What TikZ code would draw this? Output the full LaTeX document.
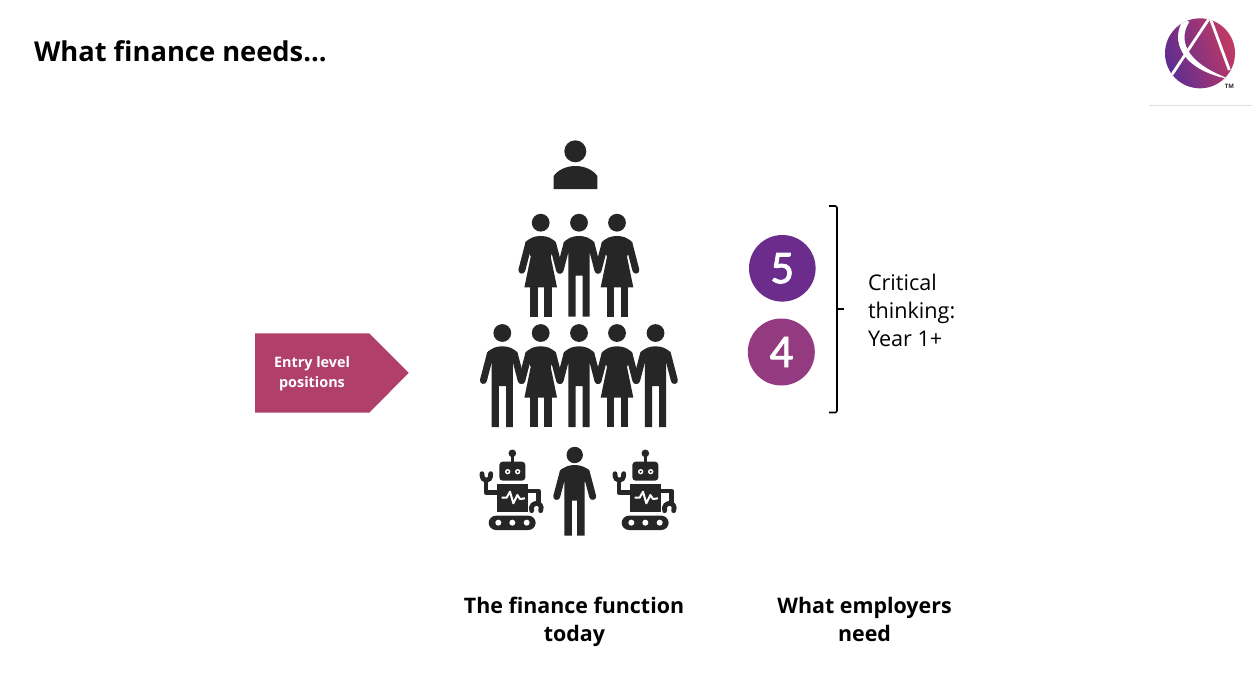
\documentclass[tikz,border=0pt]{standalone}
\usepackage{fontspec}
\setmainfont{Open Sans}
\newfontfamily\numfont[FakeBold=1.6]{Carlito}
\definecolor{ink}{HTML}{262626}
\definecolor{deepviolet}{HTML}{6B2C8C}
\definecolor{plum}{HTML}{943A80}
\definecolor{rosewood}{HTML}{B03F6A}
\definecolor{logoleft}{HTML}{5A2D92}
\definecolor{logoright}{HTML}{C63A62}
\newcommand{\px}[1]{\fontsize{\the\dimexpr #1pt*3/4\relax}{\the\dimexpr #1pt*3/4\relax}\selectfont}
\newcommand{\figbody}{%
  \fill[ink] (0,0) circle (8.9);
  \draw[ink,line width=5.2pt,line cap=round,line join=round]
    (-12,21) -- (-18.9,47.5) (12,21) -- (18.9,47.5);
}
\newcommand{\figman}[2]{\begin{scope}[shift={(#1,#2)}]
  \figbody
  \fill[ink] (-10.6,94) -- (-10.6,31) -- (-15.5,20)
    .. controls (-11,15) and (-6,13.3) .. (0,13.3)
    .. controls (6,13.3) and (11,15) .. (15.5,20)
    -- (10.6,31) -- (10.6,94) -- (3.7,94) -- (3.7,53) -- (-3.4,53) -- (-3.4,94) -- cycle;
\end{scope}}
\newcommand{\figwoman}[2]{\begin{scope}[shift={(#1,#2)}]
  \figbody
  \fill[ink] (-16.3,64.6) -- (-10,34) -- (-15.5,20)
    .. controls (-11,15) and (-6,13.3) .. (0,13.3)
    .. controls (6,13.3) and (11,15) .. (15.5,20)
    -- (10,34) -- (16.3,64.6) -- cycle;
  \fill[ink] (-10.4,62) rectangle (-3.2,94);
  \fill[ink] (3.6,62) rectangle (10.8,94);
\end{scope}}
\newcommand{\figrobot}[1]{\begin{scope}[shift={(#1,315)},scale=1/3]
  \fill[ink] (127,415) circle (11.5);
  \fill[ink] (123.5,420) rectangle (130.5,445);
  \fill[ink,rounded corners=2.5pt] (88,440) rectangle (166,497);
  \fill[white] (113,470) circle (8) (143,470) circle (8);
  \fill[ink] (113,470) circle (3.5) (143,470) circle (3.5);
  \fill[ink] (80,508) rectangle (175,592);
  \fill[ink,rounded corners=5.5pt] (56,602) rectangle (197,645);
  \fill[white] (85,623) circle (9) (127,623) circle (9) (170,623) circle (9);
  \draw[ink,line width=3.6pt,line join=round] (80,532) -- (48,532) -- (48,492);
  \draw[ink,line width=3.6pt,line cap=round] (36,476) .. controls (34,503) and (64,503) .. (62,476);
  \draw[ink,line width=3.6pt,line join=round] (175,528) -- (205,528) -- (205,568);
  \draw[ink,line width=3.6pt,line cap=round] (185,587) .. controls (178,558) and (222,558) .. (212,587);
  \draw[white,line width=1.5pt,line join=round] (95,548) -- (110,548) -- (120,530) -- (130,565) -- (142,540) -- (150,552) -- (165,550);
\end{scope}}
\begin{document}
\begin{tikzpicture}[x=0.75pt,y=-0.75pt,
  every node/.style={inner sep=0pt,outer sep=0pt},
  heading/.style={font=\bfseries\px{21.4},align=center,anchor=base},
  body/.style={font=\px{21.6},anchor=base west},
  numeral/.style={font=\numfont\px{47},text=white}]
\useasboundingbox (0,0) rectangle (1252,693);
\fill[white] (0,0) rectangle (1252,693);

\node[anchor=base west,font=\bfseries\px{27.3}] (title) at (34,61) {What finance needs...};

% logo
\begin{scope}[shift={(1140,5)},scale=1/3]
  \begin{scope}
    \clip (180,145) circle (105);
    \shade[left color=logoleft,right color=logoright,shading angle=110] (70,35) rectangle (290,255);
    \draw[white,line width=2.1pt] (211,35) -- (95,210);
    \draw[white,line width=2.1pt] (209,35) -- (268,195);
    \fill[white] (130,45) .. controls (92,100) and (115,195) .. (275,224)
      .. controls (150,180) and (108,115) .. (148,50) -- cycle;
  \end{scope}
\end{scope}
\node[font=\bfseries\px{6},text=ink] (tm) at (1229.5,86) {TM};
\draw[gray!25,line width=0.6pt] (1149,105) -- (1252,105);

% arrow
\fill[rosewood] (255,333.3) -- (369.3,333.3) -- (408.7,372.8) -- (369.3,412.7) -- (255,412.7) -- cycle;
\node[font=\bfseries\px{14.4},text=white,anchor=base] (entrya) at (312,367) {Entry level};
\node[font=\bfseries\px{14.4},text=white,anchor=base] (entryb) at (312,387) {positions};

% top person
\fill[ink] (575.3,151.3) circle (11);
\fill[ink] (553.7,189) -- (553.7,176) .. controls (558,170) and (566,166) .. (575.5,166)
  .. controls (585,166) and (593,170) .. (597.3,176) -- (597.3,189) -- cycle;

% second row
\figwoman{540.7}{222.7}
\figman{579}{222.7}
\figwoman{617}{222.7}

% third row
\figman{502.3}{333}
\figwoman{540.7}{333}
\figman{579}{333}
\figwoman{617}{333}
\figman{655.5}{333}

% bottom row
\begin{scope}[shift={(574.7,455)}]
  \fill[ink] (0,0) circle (8.2);
  \draw[ink,line width=5.2pt,line cap=round,line join=round]
    (-11.5,17) -- (-18,41.5) (11.5,17) -- (18,41.5);
  \fill[ink] (-10.4,80.7) -- (-10.4,27) -- (-15,16)
    .. controls (-11,12) and (-6,10) .. (0,10)
    .. controls (6,10) and (11,12) .. (15,16)
    -- (10,27) -- (10,80.7) -- (2.5,80.7) -- (2.5,45.5) -- (-2.8,45.5) -- (-2.8,80.7) -- cycle;
\end{scope}
\figrobot{470}
\figrobot{603}

% numbers
\node[circle,fill=deepviolet,minimum size=49.95pt,numeral] (five) at (782.3,268.3) {5};
\node[circle,fill=plum,minimum size=50.25pt,numeral] (four) at (781.3,352) {4};

% bracket
\draw[black,line width=1.2pt,rounded corners=1.5pt] (829,206) -- (837,206) -- (837,412.5) -- (829,412.5);
\draw[black,line width=1.2pt] (837,309) -- (844,309);

\node[body] (ct1) at (868,290) {Critical};
\node[body] (ct2) at (868,318) {thinking:};
\node[body] (ct3) at (868,346) {Year 1+};

\node[heading] (fa) at (574,613) {The finance function};
\node[heading] (fb) at (574.5,641) {today};
\node[heading] (wa) at (864.5,613) {What employers};
\node[heading] (wb) at (864.5,641) {need};
\end{tikzpicture}
\end{document}
